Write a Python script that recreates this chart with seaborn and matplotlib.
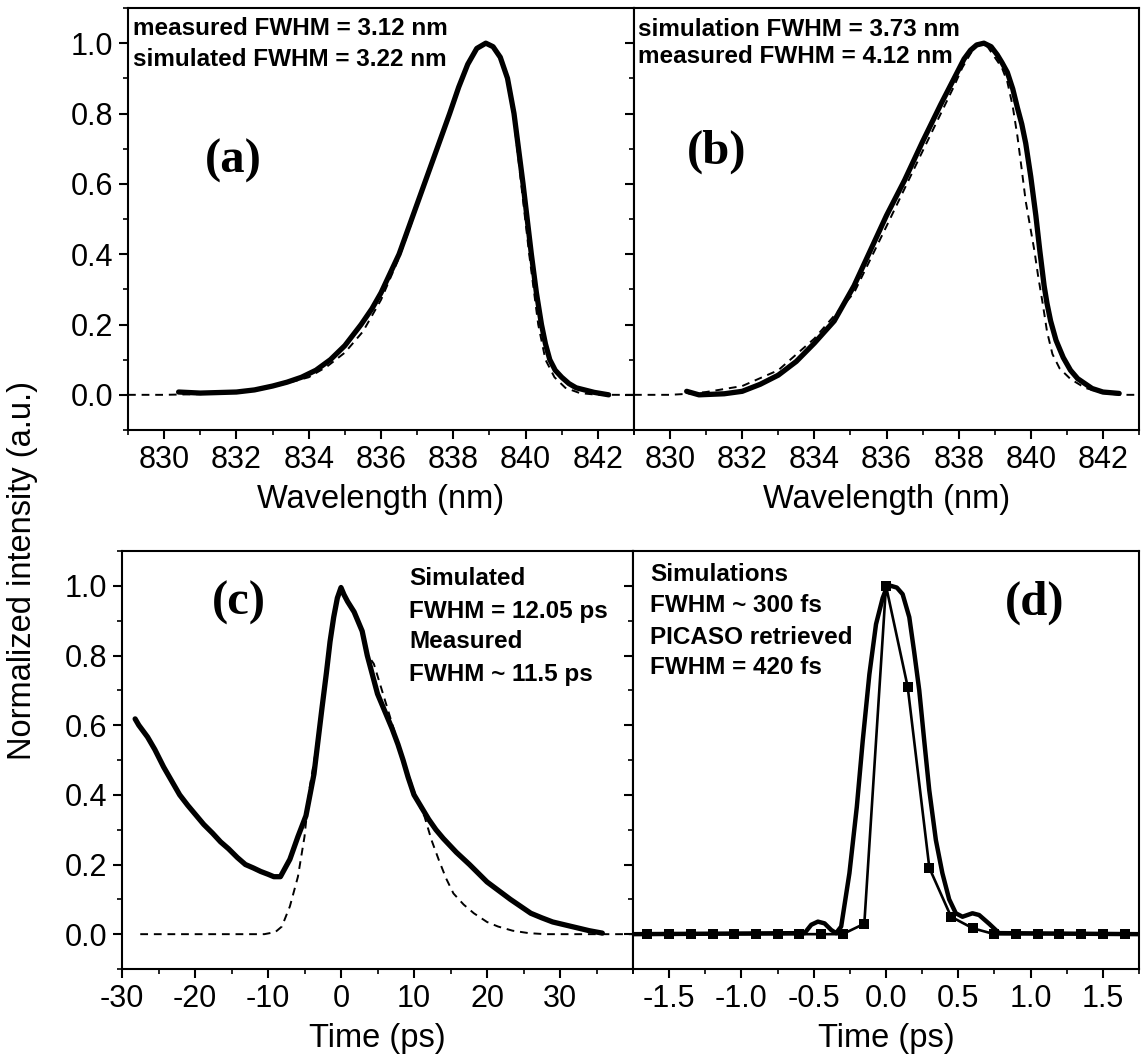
import numpy as np
import pandas as pd
import matplotlib
matplotlib.use("Agg")
import matplotlib.pyplot as plt
import seaborn as sns
from matplotlib.ticker import MultipleLocator

# ---------------- data ----------------
# (a) spectrum
a_meas_wl = [830.4, 831.0, 832.0, 832.5, 833.0, 833.4, 833.8, 834.2, 834.6, 835.0, 835.45,
             835.75, 836.0, 836.5, 836.85, 837.2, 837.55, 837.9, 838.15, 838.4, 838.65,
             838.9, 839.1, 839.3, 839.5, 839.68, 839.93, 840.16, 840.3, 840.44, 840.55,
             840.67, 840.82, 841.0, 841.2, 841.4, 841.9, 842.3]
a_meas_int = [0.008, 0.005, 0.008, 0.014, 0.025, 0.036, 0.05, 0.07, 0.10, 0.14, 0.20,
              0.245, 0.29, 0.40, 0.50, 0.60, 0.70, 0.80, 0.875, 0.94, 0.985,
              1.0, 0.99, 0.96, 0.90, 0.80, 0.60, 0.40, 0.29, 0.20, 0.145,
              0.10, 0.07, 0.05, 0.032, 0.02, 0.007, 0.0]
a_sim_wl = [829.0, 830.0, 831.0, 832.0, 833.0, 834.0, 834.5, 835.0, 835.5, 836.0, 836.5,
            836.85, 837.2, 837.55, 837.9, 838.15, 838.4, 838.65, 838.9, 839.1, 839.3,
            839.5, 839.68, 839.9, 840.1, 840.35, 840.55, 840.8, 841.1, 841.5, 842.0, 843.0]
a_sim_int = [0.0, 0.0, 0.002, 0.007, 0.022, 0.05, 0.08, 0.12, 0.18, 0.27, 0.39,
             0.49, 0.60, 0.70, 0.80, 0.875, 0.94, 0.985, 1.0, 0.99, 0.96,
             0.89, 0.78, 0.58, 0.40, 0.20, 0.10, 0.05, 0.02, 0.005, 0.0, 0.0]

# (b) spectrum
b_meas_wl = [830.46, 830.8, 831.5, 832.0, 832.5, 833.0, 833.5, 834.0, 834.55, 835.1, 835.55,
             836.0, 836.5, 837.0, 837.5, 837.96, 838.15, 838.33, 838.5, 838.7, 838.9,
             839.07, 839.2, 839.35, 839.5, 839.63, 839.75, 839.86, 840.0, 840.14, 840.25,
             840.37, 840.45, 840.55, 840.7, 840.9, 841.1, 841.3, 841.7, 842.0, 842.45]
b_meas_int = [0.01, 0.0, 0.003, 0.01, 0.03, 0.056, 0.095, 0.147, 0.21, 0.31, 0.41,
              0.51, 0.61, 0.72, 0.825, 0.917, 0.955, 0.98, 0.995, 1.0, 0.99,
              0.967, 0.945, 0.917, 0.87, 0.816, 0.77, 0.715, 0.62, 0.51, 0.41,
              0.31, 0.26, 0.21, 0.155, 0.106, 0.07, 0.046, 0.018, 0.008, 0.004]
b_sim_wl = [829.0, 830.0, 830.5, 831.0, 832.0, 833.0, 834.0, 835.1, 836.05, 836.94, 837.87,
            838.1, 838.3, 838.45, 838.6, 838.8, 839.0, 839.2, 839.35, 839.5, 839.63,
            839.75, 839.86, 839.98, 840.1, 840.2, 840.33, 840.45, 840.6, 840.8, 841.1,
            841.5, 842.0, 842.5, 843.0]
b_sim_int = [0.0, 0.0, 0.003, 0.008, 0.025, 0.07, 0.16, 0.29, 0.49, 0.68, 0.877,
             0.93, 0.965, 0.99, 1.0, 0.99, 0.96, 0.93, 0.89, 0.82, 0.735,
             0.64, 0.55, 0.48, 0.41, 0.34, 0.26, 0.18, 0.116, 0.075, 0.045,
             0.02, 0.005, 0.0, 0.0]

# (c) temporal profile
c_meas_t = [-28.2, -27.7, -26.5, -25.5, -24.3, -23.2, -22.1, -21.0, -20.0, -18.8, -17.6,
            -16.5, -15.4, -14.2, -13.1, -12.0, -11.0, -10.0, -9.2, -8.3, -7.0,
            -5.9, -4.8, -3.7, -2.6, -2.0, -1.5, -1.0, -0.5, 0.0, 0.4,
            0.9, 1.8, 2.9, 3.6, 5.0, 6.0, 7.0, 7.8, 8.5, 9.2,
            10.0, 11.0, 12.0, 13.0, 14.0, 15.8, 17.6, 18.8, 20.0, 21.6,
            23.2, 24.6, 26.0, 27.5, 29.0, 32.0, 34.0, 35.8]
c_meas_int = [0.618, 0.60, 0.566, 0.53, 0.48, 0.44, 0.40, 0.37, 0.345, 0.315, 0.29,
              0.265, 0.245, 0.22, 0.20, 0.19, 0.18, 0.172, 0.165, 0.165, 0.215,
              0.28, 0.34, 0.46, 0.65, 0.75, 0.84, 0.91, 0.965, 0.995, 0.975,
              0.955, 0.925, 0.87, 0.80, 0.69, 0.64, 0.59, 0.545, 0.50, 0.45,
              0.40, 0.365, 0.33, 0.30, 0.275, 0.235, 0.20, 0.175, 0.15, 0.125,
              0.10, 0.08, 0.06, 0.047, 0.035, 0.02, 0.01, 0.003]
c_sim_t = [-27.5, -10.5, -9.0, -8.1, -7.0, -5.9, -5.0, -4.3, -3.5, -2.6, -1.5,
           -0.7, 0.0, 0.7, 1.8, 2.9, 3.7, 4.5, 5.9, 7.5, 9.2,
           10.5, 11.45, 12.4, 13.4, 14.4, 15.4, 16.8, 18.2, 20.0, 21.5,
           23.5, 25.7, 28.0, 40.0]
c_sim_int = [0.0, 0.0, 0.006, 0.022, 0.08, 0.165, 0.28, 0.42, 0.52, 0.66, 0.85,
             0.96, 1.0, 0.965, 0.93, 0.87, 0.80, 0.776, 0.68, 0.57, 0.46,
             0.38, 0.337, 0.27, 0.213, 0.16, 0.117, 0.085, 0.06, 0.035, 0.022,
             0.01, 0.003, 0.0, 0.0]

# (d) retrieved pulses
d_sim_t = [-1.75, -0.563, -0.517, -0.471, -0.425, -0.379, -0.345, -0.31, -0.253, -0.202, -0.161,
           -0.115, -0.069, -0.023, 0.0, 0.034, 0.075, 0.115, 0.161, 0.195, 0.23,
           0.264, 0.299, 0.345, 0.39, 0.437, 0.483, 0.529, 0.598, 0.644, 0.713,
           0.782, 1.75]
d_sim_int = [0.0, 0.003, 0.027, 0.036, 0.031, 0.012, 0.003, 0.022, 0.175, 0.365, 0.555,
             0.746, 0.89, 0.965, 0.99, 1.0, 0.995, 0.976, 0.91, 0.81, 0.70,
             0.557, 0.414, 0.27, 0.175, 0.10, 0.06, 0.05, 0.06, 0.055, 0.03,
             0.003, 0.0]
d_pic_t = [-1.65, -1.5, -1.35, -1.2, -1.05, -0.9, -0.75, -0.6, -0.45, -0.3, -0.15, 0.0,
           0.15, 0.3, 0.45, 0.6, 0.75, 0.9, 1.05, 1.2, 1.35, 1.5, 1.65]
d_pic_int = [0.0, 0.0, 0.0, 0.0, 0.0, 0.0, 0.0, 0.0, 0.0, 0.0, 0.03, 1.0,
             0.71, 0.19, 0.05, 0.017, 0.0, 0.0, 0.0, 0.0, 0.0, 0.0, 0.0]

# texts
a_text = ["measured FWHM = 3.12 nm", "simulated FWHM = 3.22 nm"]
b_text = ["simulation FWHM = 3.73 nm", "measured FWHM = 4.12 nm"]
c_text = ["Simulated", "FWHM = 12.05 ps", "Measured", "FWHM ~ 11.5 ps"]
d_text = ["Simulations", "FWHM ~ 300 fs", "PICASO retrieved", "FWHM = 420 fs"]
panel_labels = ["(a)", "(b)", "(c)", "(d)"]
x_labels = ["Wavelength (nm)", "Wavelength (nm)", "Time (ps)", "Time (ps)"]
y_label = "Normalized intensity (a.u.)"
c_xticks = [-30, -20, -10, 0, 10, 20, 30]
d_xticks = [-1.5, -1.0, -0.5, 0.0, 0.5, 1.0, 1.5]

# ---------------- style ----------------
sns.set_theme(style="ticks")
plt.rcParams['font.family'] = ['Liberation Sans', 'DejaVu Sans']
plt.rcParams['axes.unicode_minus'] = False
for k in ['text.color', 'axes.labelcolor', 'xtick.color', 'ytick.color', 'axes.edgecolor']:
    plt.rcParams[k] = 'black'
plt.rcParams['axes.linewidth'] = 1.5

fig = plt.figure(figsize=(11.41, 10.60), dpi=100)
W, H = 1141.0, 1060.0

def pos(l, t, r, b):
    return [l / W, 1 - b / H, (r - l) / W, (b - t) / H]

ax_a = fig.add_axes(pos(128, 8, 634, 430))
ax_b = fig.add_axes(pos(634, 8, 1139, 430))
ax_c = fig.add_axes(pos(122, 551, 633, 969))
ax_d = fig.add_axes(pos(633, 551, 1139, 969))

TICK_FS = 22
LAB_FS = 23.5
ANN_FS = 17.5

def solid(ax, x, y, lw=3.8, **kw):
    df = pd.DataFrame({"x": x, "y": y})
    sns.lineplot(data=df, x="x", y="y", ax=ax, color="black", lw=lw,
                 estimator=None, sort=False, **kw)
    ax.lines[-1].set_solid_joinstyle("round")
    ax.lines[-1].set_solid_capstyle("round")

def dashed(ax, x, y):
    df = pd.DataFrame({"x": x, "y": y})
    sns.lineplot(data=df, x="x", y="y", ax=ax, color="black", lw=1.4,
                 estimator=None, sort=False)
    ax.lines[-1].set_dashes((4, 3))

# (a)
dashed(ax_a, a_sim_wl, a_sim_int)
solid(ax_a, a_meas_wl, a_meas_int)
# (b)
dashed(ax_b, b_sim_wl, b_sim_int)
solid(ax_b, b_meas_wl, b_meas_int)
# (c)
dashed(ax_c, c_sim_t, c_sim_int)
solid(ax_c, c_meas_t, c_meas_int)
# (d)
solid(ax_d, d_sim_t, d_sim_int, lw=3.2)
solid(ax_d, d_pic_t, d_pic_int, lw=1.9, marker="s", markersize=7.5,
      markeredgewidth=0, markerfacecolor="black")

for ax, xl in zip([ax_a, ax_b, ax_c, ax_d], x_labels):
    ax.set_ylim(-0.1, 1.1)
    ax.yaxis.set_major_locator(MultipleLocator(0.2))
    ax.yaxis.set_minor_locator(MultipleLocator(0.1))
    ax.tick_params(which="major", direction="out", length=6.5, width=1.5,
                   labelsize=TICK_FS, colors="black", pad=4,
                   top=False, right=False)
    ax.tick_params(which="minor", direction="out", length=3.5, width=1.2,
                   top=False, right=False, left=True, bottom=True)
    for s in ax.spines.values():
        s.set_visible(True)
        s.set_linewidth(1.5)
        s.set_color("black")
    ax.set_ylabel("")
    ax.set_xlabel(xl, fontsize=LAB_FS, color="black", labelpad=7)
    ax.set_facecolor("white")

for ax in [ax_a, ax_b]:
    ax.set_xlim(829, 843)
    ax.xaxis.set_major_locator(MultipleLocator(2))
    ax.xaxis.set_minor_locator(MultipleLocator(1))
ax_c.set_xlim(-30, 40)
ax_c.set_xticks(c_xticks)
ax_c.set_xticklabels([str(v) for v in c_xticks])
ax_c.xaxis.set_minor_locator(MultipleLocator(5))
ax_c.xaxis.labelpad = 7
ax_d.set_xlim(-1.75, 1.75)
ax_d.set_xticks(d_xticks)
ax_d.set_xticklabels([f"{v:.1f}" for v in d_xticks])
ax_d.xaxis.set_minor_locator(MultipleLocator(0.25))
ax_d.xaxis.labelpad = 7

for ax in [ax_b, ax_d]:
    ax.tick_params(axis="y", labelleft=False)

# annotations
for txt, yy in zip(a_text, [1.043, 0.954]):
    ax_a.text(829.15, yy, txt, fontsize=ANN_FS, fontweight="bold", ha="left", va="center")
for txt, yy in zip(b_text, [1.04, 0.963]):
    ax_b.text(829.1, yy, txt, fontsize=ANN_FS, fontweight="bold", ha="left", va="center")
for txt, yy in zip(c_text, [1.02, 0.927, 0.839, 0.746]):
    ax_c.text(9.3, yy, txt, fontsize=ANN_FS, fontweight="bold", ha="left", va="center")
for txt, yy in zip(d_text, [1.033, 0.943, 0.852, 0.766]):
    ax_d.text(-1.63, yy, txt, fontsize=ANN_FS, fontweight="bold", ha="left", va="center")

serif = ['Liberation Serif', 'DejaVu Serif']
ax_a.text(831.9, 0.665, panel_labels[0], fontsize=35, fontweight="bold", family=serif,
          ha="center", va="center")
ax_b.text(831.3, 0.69, panel_labels[1], fontsize=35, fontweight="bold", family=serif,
          ha="center", va="center")
ax_c.text(-14.0, 0.95, panel_labels[2], fontsize=35, fontweight="bold", family=serif,
          ha="center", va="center")
ax_d.text(1.03, 0.95, panel_labels[3], fontsize=35, fontweight="bold", family=serif,
          ha="center", va="center")

fig.text(23 / W, 1 - 570 / H, y_label, rotation=90, fontsize=LAB_FS,
         ha="center", va="center", color="black")

fig.savefig("out.png", dpi=100, facecolor="white")
